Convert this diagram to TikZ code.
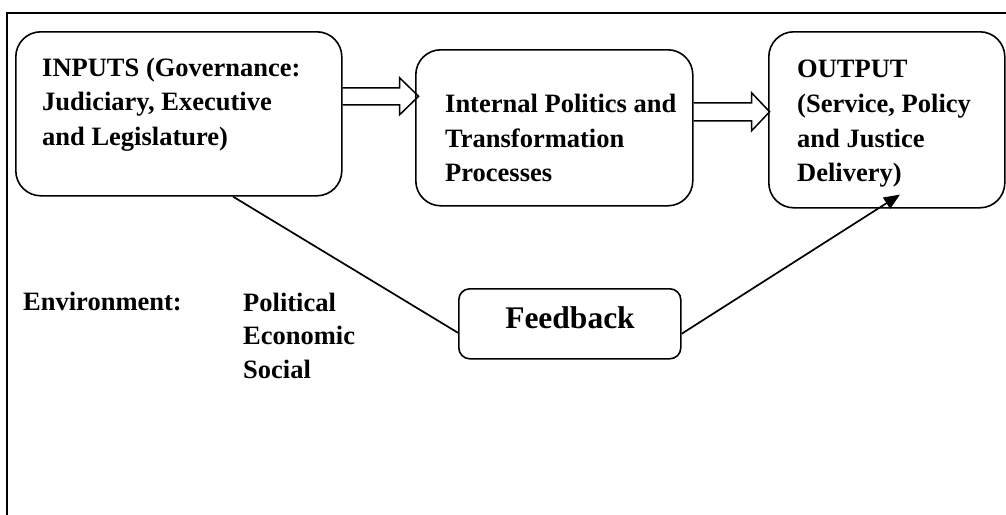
\documentclass[tikz,border=0pt]{standalone}
\usepackage{fontspec}
\setmainfont{Liberation Serif}
\usetikzlibrary{calc,arrows.meta}
\tikzset{
  frameline/.style={line width=1.8pt},
  bigbox/.style={draw, line width=1.6pt, rounded corners=25pt, rectangle, inner sep=0pt, anchor=north west},
  smallbox/.style={draw, line width=1.6pt, rounded corners=11pt, rectangle, inner sep=0pt, anchor=north west},
  boxtext/.style={inner sep=0pt, anchor=north west, align=left, font=\bfseries\fontsize{26.5}{34.7}\selectfont},
  envtext/.style={inner sep=0pt, anchor=north west, align=left, font=\bfseries\fontsize{26.5}{33.3}\selectfont},
  barrow/.style={draw, line width=1.5pt, line join=miter},
  fbline/.style={draw, line width=1.7pt},
}
\begin{document}
\begin{tikzpicture}[x=1pt,y=-1pt]
\useasboundingbox (0,0) rectangle (1006,514);
% frame
\draw[frameline] (7,516) -- (7,13) -- (1008,13);
% boxes
\node[bigbox, minimum width=326pt, minimum height=164pt] (in) at (15,31) {};
\node[bigbox, minimum width=277pt, minimum height=156pt] (ip) at (415,49) {};
\node[bigbox, minimum width=236pt, minimum height=176pt] (out) at (768,31) {};
\node[smallbox, minimum width=222pt, minimum height=70pt] (fb) at (458,288) {};
% texts
\node[boxtext] (tin) at (42,57.7) {INPUTS (Governance:\\Judiciary, Executive\\and Legislature)};
\node[boxtext] (tip) at (445,94) {Internal Politics and\\Transformation\\Processes};
\node[boxtext] (tout) at (797,60) {OUTPUT\\(Service, Policy\\and Justice\\Delivery)};
\node[inner sep=0pt, anchor=base, font=\bfseries\fontsize{31.5}{36}\selectfont] (tfb) at (570,328) {Feedback};
\node[envtext] (tenv) at (23,292) {Environment:};
\node[envtext] (tpes) at (243,293) {Political\\Economic\\Social};
% block arrows
\coordinate (a1) at ($(in.east)+(0,-17.5)$);
\draw[barrow] (a1) ++(0,-8.5) -- ++(57,0) -- ++(0,-10) -- ++(19,18.5) -- ++(-19,18.5) -- ++(0,-10) -- ++(-57,0);
\coordinate (a2) at ($(ip.east)+(0,-16)$);
\draw[barrow] (a2) ++(0,-9) -- ++(58,0) -- ++(0,-10) -- ++(18,19) -- ++(-18,19) -- ++(0,-10) -- ++(-58,0);
% feedback connectors
\draw[fbline] ($(in.south west)+(218,0)$) -- ($(fb.west)+(0,9)$);
\draw[fbline, -{Triangle[length=16pt,width=13pt]}] ($(fb.east)+(0,10)$) -- ($(out.south west)+(132,-14)$);
\end{tikzpicture}
\end{document}
